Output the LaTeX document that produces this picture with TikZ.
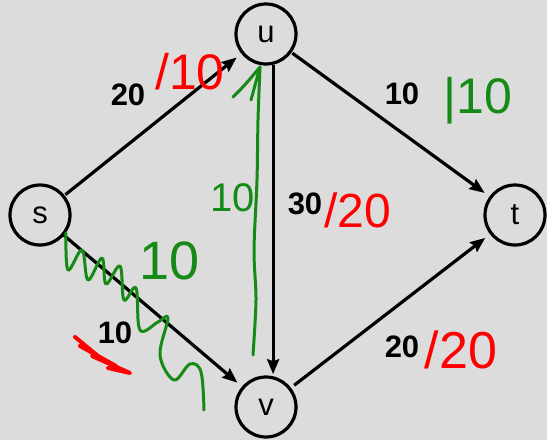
\documentclass[tikz,border=0pt]{standalone}
\usepackage{fontspec}
\setmainfont{Liberation Sans}
\usetikzlibrary{arrows.meta}
\definecolor{bg}{RGB}{220,220,220}
\definecolor{pen}{RGB}{22,138,22}
\definecolor{ink}{RGB}{255,0,0}
\begin{document}
\begin{tikzpicture}[x=1pt,y=-1pt,
  vertex/.style={circle,draw,line width=3.2pt,minimum size=60pt,inner sep=0pt,font=\fontsize{31}{31}\selectfont},
  edge/.style={line width=3.2pt,-{Stealth[length=15pt,width=12pt,inset=2pt]},shorten >=6pt,shorten <=1pt},
  capacity/.style={inner sep=0pt,font=\fontsize{31}{31}\selectfont\bfseries},
  hand/.style={inner sep=0pt,font=\fontsize{#1}{#1}\selectfont},
  hand/.default=48,
  stroke/.style={line width=3pt,line cap=round,line join=round}]
\fill[bg] (0,0) rectangle (547,440);
\useasboundingbox (0,0) rectangle (547,440);
% vertices
\node[vertex] (s) at (40,215) {s};
\node[vertex] (u) at (266,34) {u};
\node[vertex] (t) at (515,215) {t};
\node[vertex] (v) at (266,407) {v};
% edges
\draw[edge] (s) -- (u);
\draw[edge] (u) -- (t);
\draw[edge,shorten <=0pt] (s) -- (v);
\draw[edge,shorten >=2pt,shorten <=0pt] (u.-77) -- (v.77);
\draw[edge,shorten <=4pt] (v) -- (t);
% capacities
\node[capacity] (c1) at (128,95) {20};
\node[capacity] (c2) at (402,94) {10};
\node[capacity] (c3) at (305,204) {30};
\node[capacity] (c4) at (115,333) {10};
\node[capacity] (c5) at (402,347) {20};
% handwritten flows
\node[hand=50,text=ink] (f1) at (190,72) {/10};
\node[hand=48,text=ink] (f3) at (358,210) {/20};
\node[hand=50,text=pen] (f2) at (478,101) {|10};
\node[hand=52,text=ink] (f5) at (461,350) {/20};
\node[hand=54,text=pen] (g1) at (170,261) {10};
\node[hand=40,text=pen] (g2) at (233,198) {10};
% green back-flow arrow along u-v
\coordinate (gs) at (253,355);
\coordinate (gt) at (260,67);
\draw[stroke,pen] plot[smooth] coordinates {(gs) (256,300) (254,250) (257,180) (258,120) (gt)};
\draw[stroke,pen] (233,97) .. controls (245,85) .. (gt) -- (251,100);
% green squiggle over s-v
\draw[stroke,pen] plot[smooth,tension=0.6] coordinates {(66,233) (68,270) (82,250) (88,280) (102,258) (106,284) (120,266) (124,300) (136,288) (140,330) (158,322) (168,318) (160,355) (174,380) (190,364) (201,372) (204,410)};
% red scribble over 10
\draw[stroke,ink,line width=4pt] (75,337) -- (98,356) -- (80,346) -- (116,366) -- (92,356) -- (130,373) -- (108,368);
\end{tikzpicture}
\end{document}
